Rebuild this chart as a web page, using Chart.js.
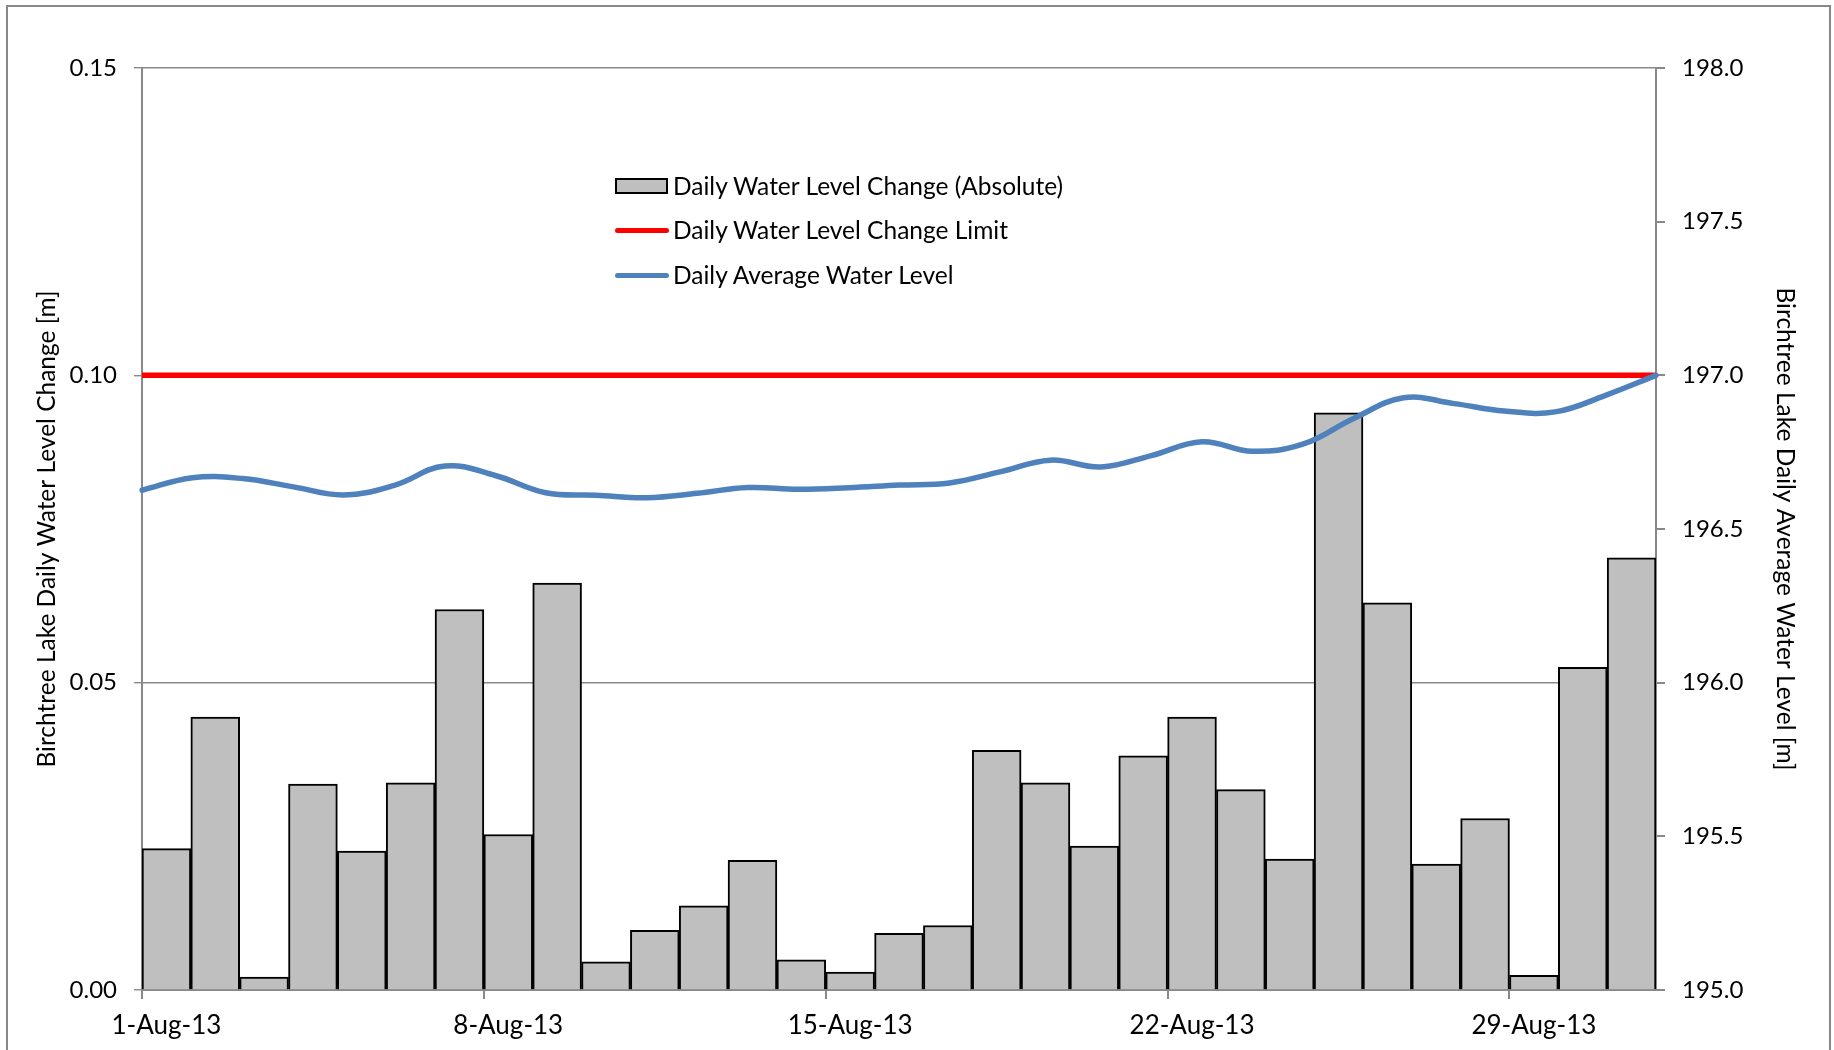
<!DOCTYPE html>
<html>
<head>
<meta charset="utf-8">
<script src="https://cdn.jsdelivr.net/npm/chart.js@4"></script>
<style>
  html, body { margin: 0; padding: 0; background: #fff; overflow: hidden; }
  #wrap { position: relative; width: 1834px; height: 1050px; }
  #legend { position: absolute; left: 0; top: 0; font-family: Lato, sans-serif; font-size: 24.5px; color: #000; }
  .lg-row { position: absolute; white-space: nowrap; height: 30px; line-height: 30px; }
  .lg-sw { position: absolute; }
  .lg-tx { position: absolute; left: 58px; top: 0; }
</style>
</head>
<body>
<div id="wrap">
  <canvas id="c" width="1834" height="1050"></canvas>
  <div id="legend"></div>
</div>
<script>
// ---- data ----
const monthLabel = 'Aug';
const yearLabel = '13';
const days = [1,2,3,4,5,6,7,8,9,10,11,12,13,14,15,16,17,18,19,20,21,22,23,24,25,26,27,28,29,30,31];
const xTickDays = [1, 8, 15, 22, 29];
const dailyChange = [0.0230, 0.0444, 0.0021, 0.0335, 0.0226, 0.0337, 0.0619, 0.0253, 0.0662, 0.0046,
                     0.0097, 0.0137, 0.0211, 0.0049, 0.0029, 0.0092, 0.0105, 0.0390, 0.0337, 0.0234,
                     0.0381, 0.0444, 0.0326, 0.0213, 0.0939, 0.0630, 0.0205, 0.0279, 0.0024, 0.0525, 0.0703];
const changeLimit = [0.10,0.10,0.10,0.10,0.10,0.10,0.10,0.10,0.10,0.10,0.10,0.10,0.10,0.10,0.10,0.10,
                     0.10,0.10,0.10,0.10,0.10,0.10,0.10,0.10,0.10,0.10,0.10,0.10,0.10,0.10,0.10];
const avgLevel = [196.626, 196.667, 196.664, 196.637, 196.611, 196.642, 196.705, 196.674, 196.618, 196.610,
                  196.602, 196.616, 196.635, 196.629, 196.634, 196.643, 196.650, 196.686, 196.724, 196.702,
                  196.739, 196.784, 196.753, 196.776, 196.859, 196.927, 196.908, 196.884, 196.881, 196.935, 197.000];
const leftTicks = [0, 0.05, 0.10, 0.15];
const rightTicks = [195.0, 195.5, 196.0, 196.5, 197.0, 197.5, 198.0];
const seriesNames = ['Daily Water Level Change (Absolute)', 'Daily Water Level Change Limit', 'Daily Average Water Level'];
const leftTitle = 'Birchtree Lake Daily Water Level Change [m]';
const rightTitle = 'Birchtree Lake Daily Average Water Level [m]';

// ---- styles ----
const GRAY = '#898989';
const BAR_FILL = '#BFBFBF';
const RED = '#FF0000';
const BLUE = '#4F81BD';
const FONT = 'Lato';

Chart.defaults.font.family = FONT;
Chart.defaults.color = '#000';

const dayLabels = days.map(d => d + '-' + monthLabel + '-' + yearLabel);

const outerBorder = {
  id: 'outerBorder',
  beforeDraw(chart) {
    const ctx = chart.ctx;
    ctx.save();
    ctx.fillStyle = '#fff';
    ctx.fillRect(0, 0, chart.width, chart.height);
    ctx.strokeStyle = GRAY;
    ctx.lineWidth = 2;
    ctx.strokeRect(7, 6, 1823, 1100);
    ctx.restore();
  }
};

const chart = new Chart(document.getElementById('c'), {
  type: 'line',
  data: {
    labels: dayLabels,
    datasets: [
      {
        type: 'line', label: seriesNames[2], data: avgLevel,
        xAxisID: 'xl', yAxisID: 'y2',
        borderColor: BLUE, borderWidth: 5.5, pointRadius: 0, tension: 0.4,
        fill: false, order: 0, borderCapStyle: 'round'
      },
      {
        type: 'line', label: seriesNames[1], data: changeLimit,
        xAxisID: 'xl', yAxisID: 'y',
        borderColor: RED, borderWidth: 5.5, pointRadius: 0, tension: 0,
        fill: false, order: 1
      },
      {
        type: 'bar', label: seriesNames[0], data: dailyChange,
        xAxisID: 'xb', yAxisID: 'y',
        backgroundColor: BAR_FILL, borderColor: '#000', borderWidth: 2,
        borderSkipped: 'bottom', grouped: false,
        barPercentage: 1.0, categoryPercentage: 1.0, order: 2
      }
    ]
  },
  options: {
    responsive: false,
    animation: false,
    devicePixelRatio: 1,
    layout: { padding: { left: 0, right: 0, top: 68, bottom: 0 } },
    plugins: { legend: { display: false }, tooltip: { enabled: false } },
    scales: {
      xb: { type: 'category', labels: dayLabels, offset: true, display: false, grid: { offset: true } },
      xl: { type: 'category', labels: dayLabels, offset: false, display: false, grid: { offset: false } },
      xd: {
        type: 'linear', position: 'bottom', min: days[0], max: days[days.length - 1] + 1,
        offset: false,
        afterBuildTicks(scale) { scale.ticks = xTickDays.map(v => ({ value: v })); },
        afterFit(scale) { scale.height = 60; },
        ticks: {
          font: { size: 26, family: FONT }, padding: 11, maxRotation: 0, autoSkip: false,
          labelOffset: 24.4,
          callback: v => v + '-' + monthLabel + '-' + yearLabel
        },
        grid: { offset: false, drawOnChartArea: false, drawTicks: true, tickLength: 9, color: GRAY, lineWidth: 2 },
        border: { display: true, color: GRAY, width: 2 }
      },
      y: {
        type: 'linear', position: 'left', min: 0, max: 0.15,
        afterBuildTicks(scale) { scale.ticks = leftTicks.map(v => ({ value: v })); },
        afterFit(scale) { scale.width = 142; },
        ticks: { font: { size: 24, family: FONT }, padding: 17, callback: v => Number(v).toFixed(2) },
        grid: { color: GRAY, lineWidth: 1.4, tickLength: 8, drawTicks: true },
        border: { display: true, color: GRAY, width: 2 },
        title: { display: true, text: leftTitle, font: { size: 24.5, family: FONT }, padding: { top: 32, bottom: 0 } }
      },
      y2: {
        type: 'linear', position: 'right', min: 195, max: 198,
        afterBuildTicks(scale) { scale.ticks = rightTicks.map(v => ({ value: v })); },
        afterFit(scale) { scale.width = 178; },
        ticks: { font: { size: 24, family: FONT }, padding: 17, callback: v => Number(v).toFixed(1) },
        grid: { drawOnChartArea: false, color: GRAY, lineWidth: 2, tickLength: 9, drawTicks: true },
        border: { display: true, color: GRAY, width: 2 },
        title: { display: true, text: rightTitle, font: { size: 24.5, family: FONT }, padding: { top: 34, bottom: 0 } }
      }
    }
  },
  plugins: [outerBorder]
});

// ---- HTML legend built from the datasets ----
(function buildLegend() {
  const lg = document.getElementById('legend');
  const ds = chart.data.datasets;
  const order = [2, 1, 0];
  const rowsTop = [171, 215, 260];
  order.forEach((idx, r) => {
    const d = ds[idx];
    const row = document.createElement('div');
    row.className = 'lg-row';
    row.style.left = '615px';
    row.style.top = rowsTop[r] + 'px';
    const sw = document.createElement('div');
    sw.className = 'lg-sw';
    if (d.type === 'bar') {
      sw.style.left = '0px'; sw.style.top = '7px'; sw.style.width = '53px'; sw.style.height = '16px';
      sw.style.boxSizing = 'border-box';
      sw.style.background = d.backgroundColor; sw.style.border = '2px solid ' + d.borderColor;
    } else {
      sw.style.left = '0px'; sw.style.top = '12.5px'; sw.style.width = '54px'; sw.style.height = '5px';
      sw.style.borderRadius = '3px'; sw.style.background = d.borderColor;
    }
    const tx = document.createElement('span');
    tx.className = 'lg-tx';
    tx.textContent = d.label;
    row.appendChild(sw); row.appendChild(tx);
    lg.appendChild(row);
  });
})();
</script>
</body>
</html>
